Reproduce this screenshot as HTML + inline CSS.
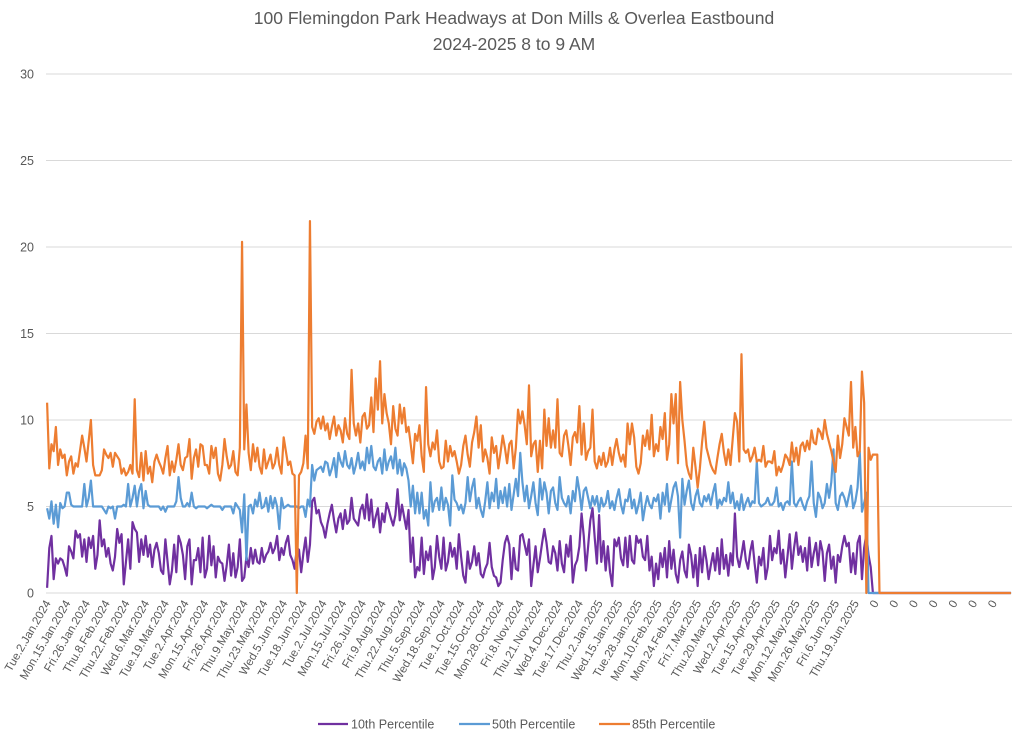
<!DOCTYPE html>
<html><head><meta charset="utf-8"><style>
html,body{margin:0;padding:0;background:#fff;}
svg{display:block;font-family:"Liberation Sans",Calibri,sans-serif;}
</style></head><body>
<svg id="chart" width="1024" height="743" viewBox="0 0 1024 743">
<text x="514" y="24" text-anchor="middle" font-size="17.5" fill="#595959">100 Flemingdon Park Headways at Don Mills &amp; Overlea Eastbound</text>
<text x="514" y="50" text-anchor="middle" font-size="17.5" fill="#595959">2024-2025 8 to 9 AM</text>
<g id="grid"></g>
<g id="yticks"></g>
<g id="xticks"></g>
<g id="series"></g>
<g>
<g><line x1="318" y1="724" x2="348" y2="724" stroke="#7030a0" stroke-width="2.2"/><text x="351" y="728.5" font-size="12.5" fill="#595959">10th Percentile</text></g>
<g><line x1="459" y1="724" x2="490" y2="724" stroke="#5b9bd5" stroke-width="2.2"/><text x="492" y="728.5" font-size="12.5" fill="#595959">50th Percentile</text></g>
<g><line x1="599" y1="724" x2="630" y2="724" stroke="#ed7d31" stroke-width="2.2"/><text x="632" y="728.5" font-size="12.5" fill="#595959">85th Percentile</text></g>
</g>
</svg>
<script>
const tickLabels = ["Tue.2.Jan.2024","Mon.15.Jan.2024","Fri.26.Jan.2024","Thu.8.Feb.2024","Thu.22.Feb.2024","Wed.6.Mar.2024","Tue.19.Mar.2024","Tue.2.Apr.2024","Mon.15.Apr.2024","Fri.26.Apr.2024","Thu.9.May.2024","Thu.23.May.2024","Wed.5.Jun.2024","Tue.18.Jun.2024","Tue.2.Jul.2024","Mon.15.Jul.2024","Fri.26.Jul.2024","Fri.9.Aug.2024","Thu.22.Aug.2024","Thu.5.Sep.2024","Wed.18.Sep.2024","Tue.1.Oct.2024","Tue.15.Oct.2024","Mon.28.Oct.2024","Fri.8.Nov.2024","Thu.21.Nov.2024","Wed.4.Dec.2024","Tue.17.Dec.2024","Thu.2.Jan.2025","Wed.15.Jan.2025","Tue.28.Jan.2025","Mon.10.Feb.2025","Mon.24.Feb.2025","Fri.7.Mar.2025","Thu.20.Mar.2025","Wed.2.Apr.2025","Tue.15.Apr.2025","Tue.29.Apr.2025","Mon.12.May.2025","Mon.26.May.2025","Fri.6.Jun.2025","Thu.19.Jun.2025","0","0","0","0","0","0","0"];
const yTicks = [0,5,10,15,20,25,30];
const p85 = [11,7.2,8.6,8.2,9.6,7.4,8.3,7.8,8,6.8, 7.6,7.9,6.9,7.5,7.3,8.2,9.1,8.4,7.6,8.8, 10,7.4,6.8,6.8,6.8,7.1,8.3,8,7.8,8.1, 7.3,8.1,7.9,7.7,6.9,7.2,6.8,7,7.4,6.9, 11.2,7.1,6.7,8.1,6.5,8.2,6.9,7.3,6.4,7.6, 8,7.6,7.3,6.9,7.8,8.5,6.8,7.6,7,7.7, 8.6,7.4,7.1,7.8,7.9,8.9,6.6,7.8,8.3,7.3, 8.6,8.5,7.4,7.4,6.9,8.5,7.8,8.4,6.9,6.5, 7.4,8.9,7.9,7.2,7.4,8.2,7,6.8,8.4,20.3, 8.3,10.9,8.1,7.1,8.6,7.6,8.4,7.3,6.9,8.3, 7.2,7.6,8,7.2,7.5,8.4,7.4,6.9,9,8.2, 7.4,7.6,6.9,6.8,0,6.8,7,7.5,9.1,7.2,21.5,
9.6,9.2,9.9,10.1,9.5,10.2,9.4,9.8,8.9,9.6, 10.2,9.1,9.7,9.4,8.7,10.1,9.2,8.9,12.9,9.8, 9.1,9.8,8.7,10.2,10.4,9.5,9.7,11.3,9.3,12.4, 10.6,13.4,9.8,11.5,10.4,9.8,8.6,10.8,9.5,9.1, 10.9,9.8,10.7,9.3,9.6,
8.6,7.5,9.2,8.8,9.7,7.9,7,11.9,8.6,7.9, 8.7,8.3,9.4,7.6,7.2,7.3,8.8,7.6,8.5,7.9, 8.2,7.6,6.9,7.4,8.5,9.1,8,7.3,8.7,9.3, 10.2,8.4,9.7,7.6,8.3,7.8,6.9,9,8.1,8.5, 7.2,8.1,9.1,8.4,7.5,8.6,8.8,7.2,8.4,10.6, 9.8,10.5,9.7,8.6,12,7.9,8.6,8.8,7,8.8, 7.2,10.6,8.5,10.1,8.4,9.4,8.4,11.2,8.1,7.9, 9.1,9.4,8.5,7.4,9,9.3,8.7,10.8,8,9.8, 7.7,8.2,8.4,10.6,7.6,7.2,7.9,7.4,8.1,7.3, 7.6,8.4,7.4,8.3,8.9,8.1,7.6,8,7.3,9.8, 8.6,9.8,9,7.3,6.9,7.5,9.1,8.5,9.4,8.3, 10.3,7.9,8.6,8.2,9.6,8.9,10.4,7.7,8.6,11.5, 9.8,11.5,7.5,12.2,10,8.8,7.4,6.9,6.6,8.4, 7.3,6.1,7.2,8.7,9.9,8.4,7.9,7.4,7.1,6.9, 7.8,8.6,9.2,8.1,7.4,8.3,7.4,8.9,10.4,9.9, 7.6,13.8,8.3,8.1,8.3,7.6,7.9,8.4,7.6,7.7, 7.6,8.5,7.3,7.6,7.6,7.5,8.2,6.8,7.3,7,7.4,
8,7.8,7.4,8.7,7.6,8.4,7.4,8.5,8.7,8.2, 8.8,8.3,9.4,8.7,8.6,9.5,9.3,8.9,10,9.2, 8.7,8.2,7.6,7,9.1,7.8,8.6,10.1,9.6,9.1, 12.2,8.4,9.6,7.9,8.2,12.8,11,0,8.4,7.7,8,8,8];
const p50 = [4.9,4.3,5.3,4,5.1,3.8,5.2,4.9,5,5.8, 5.8,5.1,5,5,5,5,5,6.3,5,5.5, 6.5,5,5,5,5,5,4.8,4.6,5,4.9, 5,4.3,5,5,5,5.1,5,6.3,5,5.5, 6.2,5,5.9,6.3,4.9,5.9,5.1,5,5,5, 5,5,4.8,5,4.7,5,5,5,5,5.3, 6.7,5.5,5,5,5.2,5,5.8,5,4.9,5, 5,5,5,4.9,5,5.1,5,5,5,5, 4.8,5,5,5,5,4.6,5.2,5,4.8,3.5, 5.7,1.9,5,5.1,4.6,5.4,5,5.8,4.9,5, 5.5,4.7,5.6,4.9,5.5,5,3.7,5.5,4.9,5, 5.1,5,5,5,5,4.9,5,5,4.4,5.4,5,
7.4,6.5,7.1,7.2,7.3,7,7.6,7.5,6.8,7.2, 7.8,6.7,8.1,7.6,7.3,8.2,7.4,7.2,7.8,6.9, 7.4,8.1,7.2,7.6,7.1,8.4,7.5,8.5,7.3,7.1, 7.6,7.8,6.9,8.3,7.1,7.6,7.9,7.2,8.4,6.9, 7.7,6.8,7.5,7.2,6.5,
5,6.2,4.6,5.8,4.6,5.8,4.3,4.8,3.9,6.4, 4.7,5.3,5.5,4.8,6.1,4.8,5.5,5.1,3.9,6.8, 5.4,5.2,4.8,5.1,4.6,5.2,6.7,5.3,6.1,6.6, 4.9,5.5,4.8,4.4,5.3,6.4,4.9,5.8,5.3,6.6, 4.9,5.9,5.2,6.1,5,6.3,4.8,5.7,6.6,5.6, 8.1,6.4,5.3,6.2,4.9,5.6,6.4,5.2,4.5,6.6, 5.4,6.4,5.8,4.6,5.9,6.1,5.2,4.8,6.7,5.5, 5.2,5,5.6,4.6,5.9,5.3,6.7,5.9,4.8,5.9, 6.1,5.5,4.9,5.6,5.1,5.6,4.7,5.5,5,5.2, 5.9,4.9,5.3,4.8,5.5,6,5.1,4.6,5.4,5.3, 6,4.9,5.4,4.6,5.1,5.8,4.2,5,5.6,5.1, 4.9,5.5,5.3,5.7,4.3,5.8,5.1,6.3,4.7,5.4, 6.1,6.4,5.6,3.2,6.6,5.1,5.9,6.5,5.2,4.8, 5.6,6,5.2,5,5.6,5.3,5.7,5.1,5.8,6.3, 4.9,5.4,5.1,5.5,5.3,6.4,5.2,5.8,4.9,5.3, 4.8,5.7,4.8,5.2,5.5,5,5.3,5.2,7.6,5.2, 5,5.1,5.2,5.5,5.1,5.1,5.3,6.1,5,5.2, 4.8,5.2,5.3,5.1,7.6,5.2,5,5.3,5.5,5.1, 4.8,5.3,5.6,7.6,5.2,4.4,5.8,5.5,4.9,5.2, 6.3,5.5,6.4,8.3,5.2,4.8,5.6,5.8,5.5,5, 5.6,6.2,4.9,5.3,6.1,8.2,4.7,5.2,5.8,0];
const p10 = [0.3,2.6,3.3,0.8,2,1.7,2,1.9,1.5,1, 2.7,2.4,2,3.6,3.2,3.4,2.1,3.1,1.8,3.2, 2.6,3.3,1.4,2.2,4.2,2.7,3.1,2.1,2.6,1.7, 1.3,2.1,3.7,2.9,3.4,0.5,1.8,3.1,1.4,4.1, 3.7,3.5,1.8,3.1,2.2,3.3,2.1,2.8,1.5,2.5, 2.9,2.3,1.3,1.1,3.1,1.8,0.5,1.3,2.8,1.2, 3.3,2.9,2.2,0.8,2.7,3.1,0.5,1.9,1.9,2.6, 1.2,3.2,0.9,1.4,3.3,1.6,2.7,0.9,2.1,1.8, 1.7,0.7,1.6,2.8,1,2.3,0.9,1.5,3.1,0.7, 0.9,2.1,1.5,2.6,1.7,2.5,1.8,1.7,2.6,1.8, 2.2,2.4,2.9,2.3,2.6,3.3,1.9,2.6,2.2,2.9, 3.3,2.2,1.9,1.4,2.6,2.5,1.2,2.3,3.2,1.8,2.8,
5.3,5.5,4.6,4.8,4.1,3.8,3.2,4,4.6,5.1, 4.2,3.5,4.3,4.6,3.7,4.8,4,4.2,5.5,4.3, 4.1,3.9,4.8,5.1,4.3,5.7,4.2,5.4,3.8,4.4, 4.9,3.5,4.6,4.1,5.2,4.8,4.3,3.9,4.5,6, 4.2,5.1,4.4,3.7,4.8,
1.8,3.2,0.9,1.5,1.3,3.2,1.1,2.4,1.9,2.7, 0.8,1.5,3.3,2.1,1.4,3.2,1.3,1.8,2.9,2.1, 2.6,1.4,3.4,2.1,1,0.6,2.4,1.4,1.8,2.7, 1.6,2.3,1.1,0.9,1.4,1.7,2.9,1.5,1,0.9, 0.4,0.6,1.9,2.9,3.3,2.8,0.8,2.6,1.4,1.3, 3.3,3.4,2.8,2.2,3.1,0.4,1.6,2.7,1.2,2, 2.9,3.7,2.9,1.8,1.7,2.7,2.3,1.3,3,1.7, 1.2,2.8,2.1,3.3,0.6,1.6,1.9,2.7,4.6,3.3, 1.3,2.7,4.2,4.9,3.2,1.7,4.5,1.8,3,1.3, 2.7,1.2,0.4,3.1,2.7,3.2,2,1.6,3.2,1.5, 3.3,1.9,1.7,3.3,2.9,3.1,2.1,1.9,3.3,1.3, 2.1,0.4,1.7,0.8,2.3,1.5,2.6,0.9,3,1.4, 2.5,1.1,0.6,1.9,2.4,1.3,0.9,2.8,2.2,0.9, 2.2,0.4,2.6,1.2,2.7,1.9,0.8,1.6,2.3,1.3, 2.6,1.1,3.1,1.4,2.2,1,2.3,1.6,4.6,2.1, 1.5,2.2,3,1.9,1.4,2.4,3,1.7,0.6,2.1, 1.6,2.6,0.8,1.5,3.3,1.9,2.6,2.3,3.6,1.7, 2.5,0.9,2.1,3.4,1.4,2.6,3.5,2.2,2.7,1.8, 2.6,1.3,3.2,1.5,2.3,2.9,1.6,3,2.4,0.7, 2.3,2.8,1.4,2.1,0.6,2.2,1.8,2.7,3.3,2.7,2.9,1.2, 2.3,1.1,2.9,3.3,0.8,2.6,3.4,2.2,1.5,0];

const N = 441, PER_LABEL = 9;
const plotLeft = 46, plotRight = 1012, plotTop = 74, plotBottom = 593, yMax = 30;
const step = (plotRight - plotLeft) / N;
const xPos = i => plotLeft + step * (i + 0.5);
const yPos = v => plotBottom - (v / yMax) * (plotBottom - plotTop);
const NS = "http://www.w3.org/2000/svg";
function mk(tag, attrs, parent) {
  const e = document.createElementNS(NS, tag);
  for (const k in attrs) e.setAttribute(k, attrs[k]);
  parent.appendChild(e);
  return e;
}
const grid = document.getElementById('grid');
const yt = document.getElementById('yticks');
yTicks.forEach(v => {
  const l = mk('line', {x1: plotLeft, x2: plotRight, y1: yPos(v), y2: yPos(v), stroke: '#d9d9d9', 'stroke-width': 1}, grid);
  
  
  const t = mk('text', {x: 34, y: yPos(v) + 4.5, 'text-anchor': 'end', 'font-size': 12.5, fill: '#595959'}, yt);
  t.textContent = v;
  
  
});
const xt = document.getElementById('xticks');
tickLabels.forEach((lab, k) => {
  const x = xPos(k * PER_LABEL);
  const t = mk('text', {x: x + 4, y: 603, 'text-anchor': 'end', 'font-size': 11.6, fill: '#595959', transform: 'rotate(-60 ' + (x + 4) + ' 603)'}, xt);
  t.textContent = lab;
  
  
});
const ser = document.getElementById('series');
[[p10, '#7030a0', 'line-10th-percentile'], [p50, '#5b9bd5', 'line-50th-percentile'], [p85, '#ed7d31', 'line-85th-percentile']].forEach(([arr, col, name]) => {
  let d = '';
  for (let i = 0; i < N; i++) {
    const v = i < arr.length ? arr[i] : 0;
    d += (i ? 'L' : 'M') + xPos(i).toFixed(2) + ' ' + yPos(v).toFixed(2);
  }
  const p = mk('path', {d: d, fill: 'none', stroke: col, 'stroke-width': 2.2, 'stroke-linejoin': 'round'}, ser);
  
  
});
</script>
</body></html>
